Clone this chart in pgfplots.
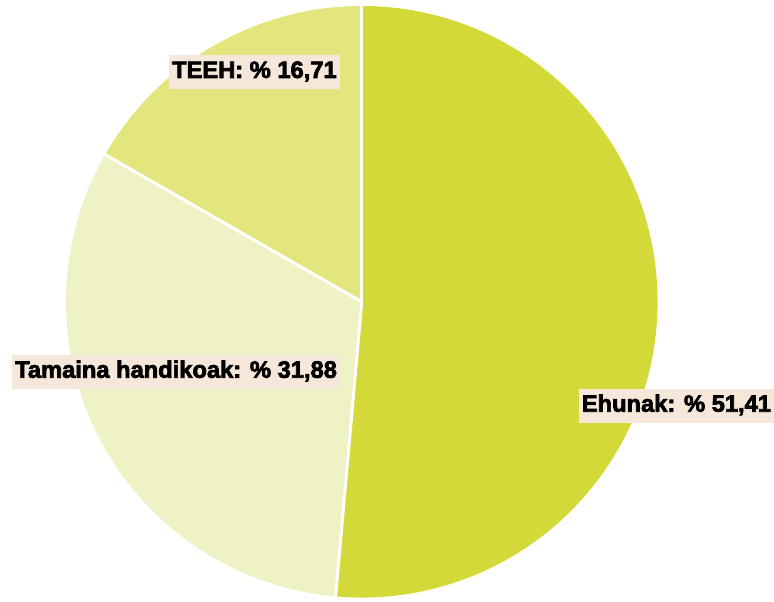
\documentclass[border=0pt]{standalone}
\usepackage{fontspec}
\setmainfont{Liberation Sans}
\newfontfamily\labfont{Liberation Sans Bold}[FakeBold=3]
\usepackage{pgfplots}
\pgfplotsset{compat=1.18}
\definecolor{cEhun}{HTML}{D4D93A}
\definecolor{cTam}{HTML}{EFF2C4}
\definecolor{cTeeh}{HTML}{E2E67C}
\definecolor{labbg}{HTML}{F5E8DA}
\begin{document}
\begin{tikzpicture}
\def\vEhun{51.41}
\def\vTam{31.88}
\def\vTeeh{16.71}
\pgfmathsetmacro\aA{90}
\pgfmathsetmacro\aB{\aA-\vEhun*3.6}
\pgfmathsetmacro\aC{\aB-\vTam*3.6}
\pgfmathsetmacro\aD{\aC-\vTeeh*3.6}
\begin{axis}[width=774bp,height=602bp,scale only axis,
  xmin=0,xmax=774,ymin=0,ymax=602,hide axis,clip=false]
\path (axis cs:0,0) rectangle (axis cs:774,602);
\fill[cEhun] (axis cs:362,300) -- ++(\aA:296bp) arc[start angle=\aA,end angle=\aB,radius=296bp] -- cycle;
\fill[cTam] (axis cs:362,300) -- ++(\aB:296bp) arc[start angle=\aB,end angle=\aC,radius=296bp] -- cycle;
\fill[cTeeh] (axis cs:362,300) -- ++(\aC:296bp) arc[start angle=\aC,end angle=\aD,radius=296bp] -- cycle;
\draw[white,line width=3bp] (axis cs:362,300) -- ++(\aA:297bp);
\draw[white,line width=3bp] (axis cs:362,300) -- ++(\aB:297bp);
\draw[white,line width=3bp] (axis cs:362,300) -- ++(\aC:297bp);
\tikzset{lab/.style={anchor=base west,fill=labbg,inner xsep=3bp,inner ysep=6bp,text height=17bp,text depth=5bp,font=\labfont\fontsize{23.8}{28}\selectfont}}
\node[lab] at (axis cs:169,524) {TEEH: \% 16,71};
\node[lab] at (axis cs:12,224) {Tamaina handikoak: \% 31,88};
\node[lab] at (axis cs:579,190) {Ehunak: \% 51,41};
\end{axis}
\end{tikzpicture}
\end{document}
